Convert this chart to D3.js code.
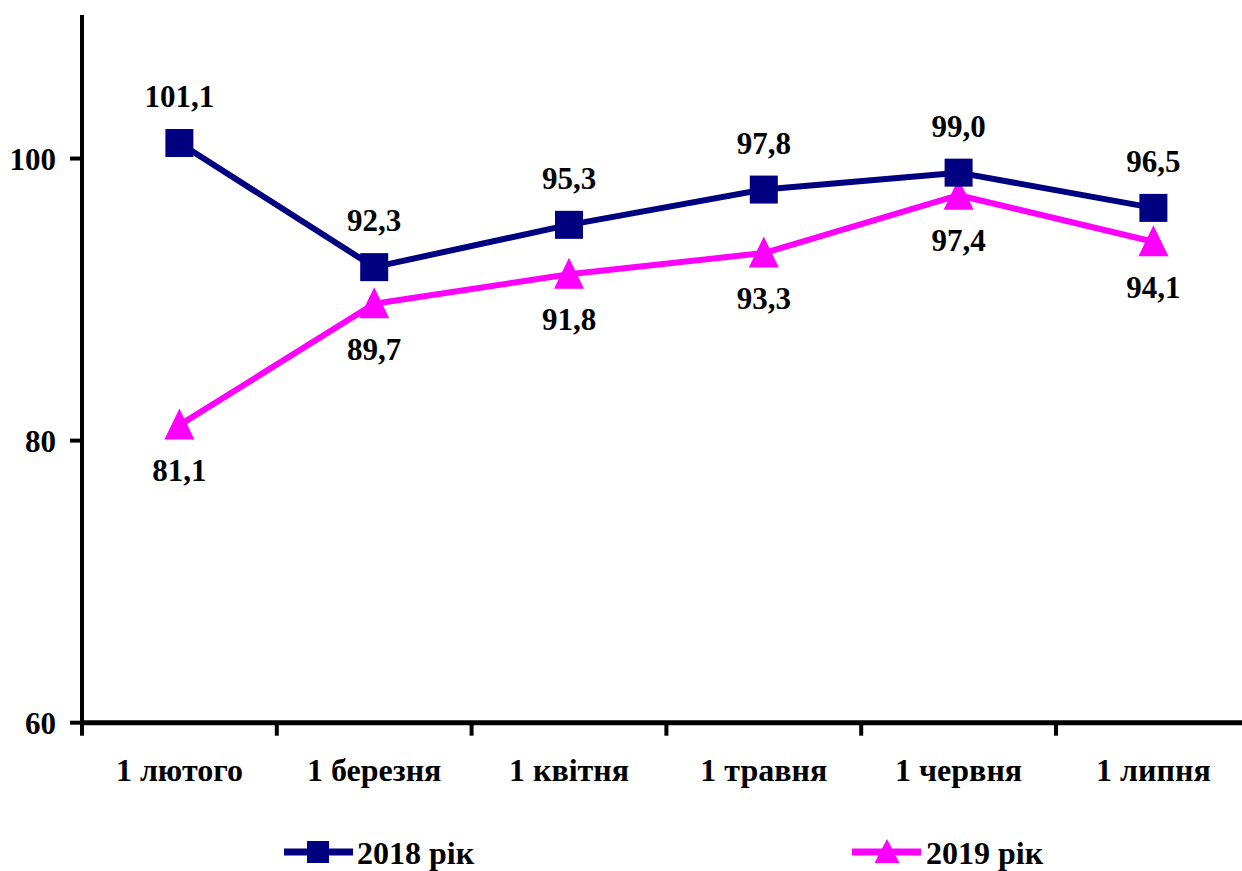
<!DOCTYPE html>
<html>
<head>
<meta charset="utf-8">
<script src="https://cdn.jsdelivr.net/npm/d3@7"></script>
<style>
  html, body { margin: 0; padding: 0; background: #fff; }
  svg { display: block; }
</style>
</head>
<body>
<svg id="chart" width="1242" height="871"></svg>
<script>
const categories = ["1 лютого", "1 березня", "1 квітня", "1 травня", "1 червня", "1 липня"];
const values2018 = [101.1, 92.3, 95.3, 97.8, 99.0, 96.5];
const values2019 = [81.1, 89.7, 91.8, 93.3, 97.4, 94.1];
const yTicks = [60, 80, 100];
const seriesNames = ["2018 рік", "2019 рік"];

const FONT = "'Liberation Serif', 'Times New Roman', Tinos, serif";
const FS = 31, FS_CAT = 32;
const navy = "#000080", magenta = "#FF00FF";
const svg = d3.select("#chart")
  .attr("font-family", FONT).attr("font-weight", "bold");
const fmt = v => d3.format(".1f")(v).replace(".", ",");

const x = d3.scaleBand().domain(categories).range([82, 1250.8]).padding(0);
const y = d3.scaleLinear().domain([60, 110]).range([722.7, 17.5]);
const cx = c => x(c) + x.bandwidth() / 2;

// custom triangle: width w, apex above centre
const triangle = (w, up, down) => ({
  draw(ctx) {
    ctx.moveTo(0, -up);
    ctx.lineTo(w / 2, down);
    ctx.lineTo(-w / 2, down);
    ctx.closePath();
  }
});

// X axis
const xAxis = svg.append("g").attr("transform", "translate(0,722.7)");
xAxis.append("line").attr("x1", 80).attr("x2", 1242).attr("y1", 0).attr("y2", 0)
  .attr("stroke", "#000").attr("stroke-width", 5);
categories.forEach(c => {
  xAxis.append("line").attr("x1", x(c)).attr("x2", x(c)).attr("y1", 0).attr("y2", 13)
    .attr("stroke", "#000").attr("stroke-width", 4);
  xAxis.append("text").attr("x", cx(c)).attr("y", 58).attr("text-anchor", "middle")
    .attr("font-family", FONT).attr("font-size", FS_CAT).text(c);
});

// Y axis
const yAxis = svg.append("g");
yAxis.append("line").attr("x1", 82).attr("x2", 82).attr("y1", y(110) - 2.5).attr("y2", 735)
  .attr("stroke", "#000").attr("stroke-width", 4);
yTicks.forEach(t => {
  yAxis.append("line").attr("x1", 70).attr("x2", 82).attr("y1", y(t)).attr("y2", y(t))
    .attr("stroke", "#000").attr("stroke-width", 4);
  yAxis.append("text").attr("x", 56).attr("y", y(t) + 11).attr("text-anchor", "end")
    .attr("font-family", FONT).attr("font-size", FS).text(t);
});

const line = d3.line().x((d, i) => cx(categories[i])).y(d => y(d));

svg.append("path").datum(values2019).attr("d", line).attr("fill", "none")
  .attr("stroke", magenta).attr("stroke-width", 6).attr("stroke-linejoin", "round");
svg.append("path").datum(values2018).attr("d", line).attr("fill", "none")
  .attr("stroke", navy).attr("stroke-width", 6).attr("stroke-linejoin", "round");

const tri = d3.symbol().type(triangle(30, 16.5, 14.5));
svg.selectAll(".m19").data(values2019).enter().append("path")
  .attr("d", tri)
  .attr("transform", (d, i) => `translate(${cx(categories[i])},${y(d)})`)
  .attr("fill", magenta);

const sq = 28;
svg.selectAll(".m18").data(values2018).enter().append("rect")
  .attr("x", (d, i) => cx(categories[i]) - sq / 2).attr("y", d => y(d) - sq / 2)
  .attr("width", sq).attr("height", sq).attr("fill", navy);

svg.selectAll(".l18").data(values2018).enter().append("text")
  .attr("x", (d, i) => cx(categories[i])).attr("y", d => y(d) - 36)
  .attr("text-anchor", "middle").attr("font-family", FONT).attr("font-size", FS).text(fmt);
svg.selectAll(".l19").data(values2019).enter().append("text")
  .attr("x", (d, i) => cx(categories[i])).attr("y", d => y(d) + 56)
  .attr("text-anchor", "middle").attr("font-family", FONT).attr("font-size", FS).text(fmt);

// Legend
const legY = 852;
const leg1 = svg.append("g").attr("transform", `translate(284,${legY})`);
leg1.append("line").attr("x1", 0).attr("x2", 69).attr("y1", 0).attr("y2", 0)
  .attr("stroke", navy).attr("stroke-width", 7);
leg1.append("rect").attr("x", 23).attr("y", -11).attr("width", 22).attr("height", 22).attr("fill", navy);
leg1.append("text").attr("x", 73).attr("y", 12).attr("font-family", FONT).attr("font-size", FS_CAT).text(seriesNames[0]);

const leg2 = svg.append("g").attr("transform", `translate(852,${legY})`);
leg2.append("line").attr("x1", 0).attr("x2", 69).attr("y1", 0).attr("y2", 0)
  .attr("stroke", magenta).attr("stroke-width", 7);
leg2.append("path").attr("d", d3.symbol().type(triangle(25, 13, 11)))
  .attr("transform", "translate(35,0)").attr("fill", magenta);
leg2.append("text").attr("x", 74).attr("y", 12).attr("font-family", FONT).attr("font-size", FS_CAT).text(seriesNames[1]);
</script>
</body>
</html>
